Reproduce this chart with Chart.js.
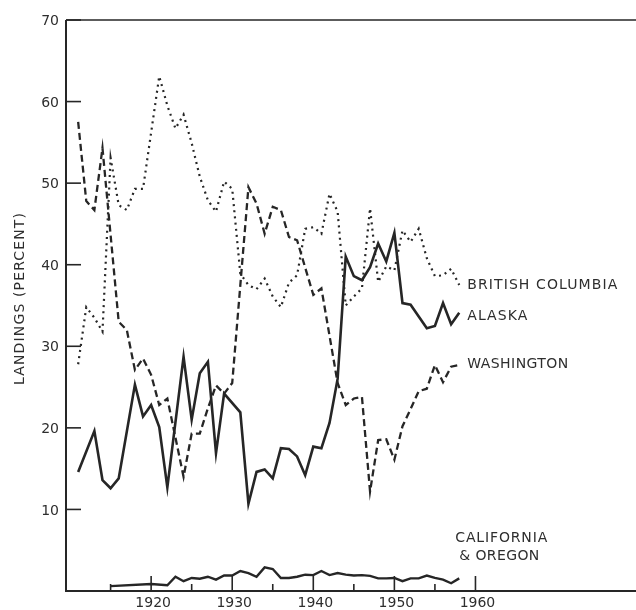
<!DOCTYPE html>
<html>
<head>
<meta charset="utf-8">
<script src="https://cdn.jsdelivr.net/npm/chart.js@4.4.1/dist/chart.umd.min.js"></script>
<style>
  html, body { margin: 0; padding: 0; background: #fff; }
  #wrap { width: 636px; height: 610px; }
</style>
</head>
<body>
<div id="wrap"><canvas id="landingsChart" width="636" height="610"></canvas></div>
<script>
// share of landings by region (null = no visible vertex)
const years = [1911, 1912, 1913, 1914, 1915, 1916, 1917, 1918, 1919, 1920,
    1921, 1922, 1923, 1924, 1925, 1926, 1927, 1928, 1929, 1930,
    1931, 1932, 1933, 1934, 1935, 1936, 1937, 1938, 1939, 1940,
    1941, 1942, 1943, 1944, 1945, 1946, 1947, 1948, 1949, 1950,
    1951, 1952, 1953, 1954, 1955, 1956, 1957, 1958];

const britishColumbia = [27.8, 34.8, 33.5, 31.8, 53.1, 47.3, 46.7, 49.3, 49.3, null,
    63.1, 59.5, 56.7, 58.4, 54.9, 50.8, 47.9, 46.5, 50.2, 49.3,
    38.9, 37.5, 37.0, 38.3, 36.1, 34.8, 37.8, 38.7, 44.4, 44.6,
    43.8, 48.7, 46.5, 35.0, 36.1, 37.1, 46.9, 37.9, 39.8, 39.3,
    44.2, 42.8, 44.4, 40.8, 38.6, 38.7, 39.5, 37.5];

const alaska = [14.6, null, 19.6, 13.6, 12.6, 13.8, null, 25.3, 21.4, 22.8,
    20.1, 12.7, null, 28.7, 21.0, 26.7, 28.1, 16.9, 24.2, null,
    21.9, 10.7, 14.6, 14.9, 13.8, 17.5, 17.4, 16.5, 14.2, 17.7,
    17.5, 20.6, 26.0, 41.0, 38.6, 38.1, 39.7, 42.6, 40.4, 43.9,
    35.3, 35.1, null, 32.2, 32.5, 35.3, 32.7, 34.1];

const washington = [57.5, 47.8, 46.7, 54.3, null, 33.0, 32.0, 27.1, 28.5, 26.5,
    22.8, 23.6, null, 14.0, 19.3, 19.3, 22.4, 25.2, 24.2, 25.5,
    null, 49.5, 47.5, 43.8, 47.1, 46.7, 43.4, 43.0, null, 36.3,
    37.1, null, 25.5, 22.8, 23.6, 23.8, 12.2, 18.5, 18.6, 16.1,
    20.2, 22.3, 24.5, 24.8, 27.7, 25.6, 27.5, 27.7];

const californiaOregon = [null, null, null, null, 0.6, null, null, null, null, 0.85,
    null, 0.7, 1.75, 1.2, 1.6, 1.5, 1.75, 1.4, 1.9, 1.9,
    2.45, 2.2, 1.75, 2.9, 2.7, 1.6, 1.6, 1.75, 2.0, 1.95,
    2.45, 1.95, 2.2, 2.0, 1.9, 1.95, 1.85, 1.55, 1.55, 1.6,
    1.2, 1.55, 1.55, 1.9, 1.6, 1.4, 0.95, 1.55];

const yTicks = [10, 20, 30, 40, 50, 60, 70];
const xMajorTicks = [1920, 1930, 1940, 1950, 1960];
const xMinorTicks = [1915, 1925, 1935, 1945, 1955];
const seriesNames = ['BRITISH COLUMBIA', 'ALASKA', 'WASHINGTON', 'CALIFORNIA', '& OREGON'];
const yTitle = 'LANDINGS (PERCENT)';

const INK = '#262626';
const TEXT = '#2e2e2e';
const FONT = '14px "DejaVu Sans", sans-serif';

// write text stretched to a target width (old drafting lettering is wide-spaced)
function spacedText(ctx, text, x, y, width) {
    ctx.letterSpacing = '0px';
    const w = ctx.measureText(text).width;
    const gap = text.length > 1 ? (width - w) / (text.length - 1) : 0;
    ctx.letterSpacing = gap.toFixed(2) + 'px';
    ctx.fillText(text, x, y);
    ctx.letterSpacing = '0px';
}

const paperAxes = {
    id: 'paperAxes',
    afterDatasetsDraw(chart) {
        const ctx = chart.ctx;
        const a = chart.chartArea;
        const xs = chart.scales.x;
        const ys = chart.scales.y;
        ctx.save();
        ctx.strokeStyle = INK;
        ctx.lineCap = 'butt';

        // frame: left + bottom axis, thin top line
        ctx.lineWidth = 2;
        ctx.beginPath();
        ctx.moveTo(a.left, a.top);
        ctx.lineTo(a.left, a.bottom);
        ctx.lineTo(a.right, a.bottom);
        ctx.stroke();
        ctx.lineWidth = 1.6;
        ctx.beginPath();
        ctx.moveTo(a.left, a.top);
        ctx.lineTo(a.right, a.top);
        ctx.stroke();

        // inward ticks
        ctx.lineWidth = 1.6;
        yTicks.forEach(v => {
            const py = ys.getPixelForValue(v);
            ctx.beginPath();
            ctx.moveTo(a.left, py);
            ctx.lineTo(a.left + 15, py);
            ctx.stroke();
        });
        xMajorTicks.forEach(v => {
            const px = xs.getPixelForValue(v);
            ctx.beginPath();
            ctx.moveTo(px, a.bottom);
            ctx.lineTo(px, a.bottom - 15);
            ctx.stroke();
        });
        xMinorTicks.forEach(v => {
            const px = xs.getPixelForValue(v);
            ctx.beginPath();
            ctx.moveTo(px, a.bottom);
            ctx.lineTo(px, a.bottom - 7);
            ctx.stroke();
        });

        // tick labels
        ctx.fillStyle = TEXT;
        ctx.font = FONT;
        ctx.textBaseline = 'middle';
        ctx.textAlign = 'right';
        yTicks.forEach(v => {
            ctx.fillText(String(v), a.left - 7, ys.getPixelForValue(v) + 1.5);
        });
        ctx.textAlign = 'center';
        xMajorTicks.forEach(v => {
            ctx.fillText(String(v), xs.getPixelForValue(v) + 2, a.bottom + 12);
        });

        // axis title
        ctx.save();
        ctx.translate(20, 299);
        ctx.rotate(-Math.PI / 2);
        ctx.textAlign = 'left';
        spacedText(ctx, yTitle, -86, 0, 172);
        ctx.restore();

        // series names, placed just right of each line end
        ctx.textAlign = 'left';
        const endX = xs.getPixelForValue(1958);
        spacedText(ctx, seriesNames[0], endX + 8, ys.getPixelForValue(37.5), 150);
        spacedText(ctx, seriesNames[1], endX + 8, ys.getPixelForValue(33.7), 60);
        spacedText(ctx, seriesNames[2], endX + 8, ys.getPixelForValue(27.8), 101);
        spacedText(ctx, seriesNames[3], endX - 4, ys.getPixelForValue(6.5), 92);
        spacedText(ctx, seriesNames[4], endX, ys.getPixelForValue(4.3), 80);
        ctx.restore();
    }
};

function lineSet(label, data, width, dash) {
    return {
        label: label,
        data: data,
        borderColor: INK,
        borderWidth: width,
        borderDash: dash,
        borderJoinStyle: 'miter',
        pointRadius: 0,
        tension: 0,
        spanGaps: true,
        fill: false
    };
}

new Chart(document.getElementById('landingsChart'), {
    type: 'line',
    data: {
        labels: years,
        datasets: [
            lineSet('British Columbia', britishColumbia, 2.2, [2, 4.2]),
            lineSet('Alaska', alaska, 2.6, []),
            lineSet('Washington', washington, 2.3, [7, 4]),
            lineSet('California & Oregon', californiaOregon, 2.4, [])
        ]
    },
    options: {
        responsive: false,
        animation: false,
        layout: { padding: { left: 66, top: 20, right: 0, bottom: 19 } },
        plugins: { legend: { display: false }, tooltip: { enabled: false } },
        scales: {
            x: { type: 'linear', min: 1909.5, max: 1979.8, display: false },
            y: { type: 'linear', min: 0, max: 70, display: false }
        }
    },
    plugins: [paperAxes]
});
</script>
</body>
</html>
